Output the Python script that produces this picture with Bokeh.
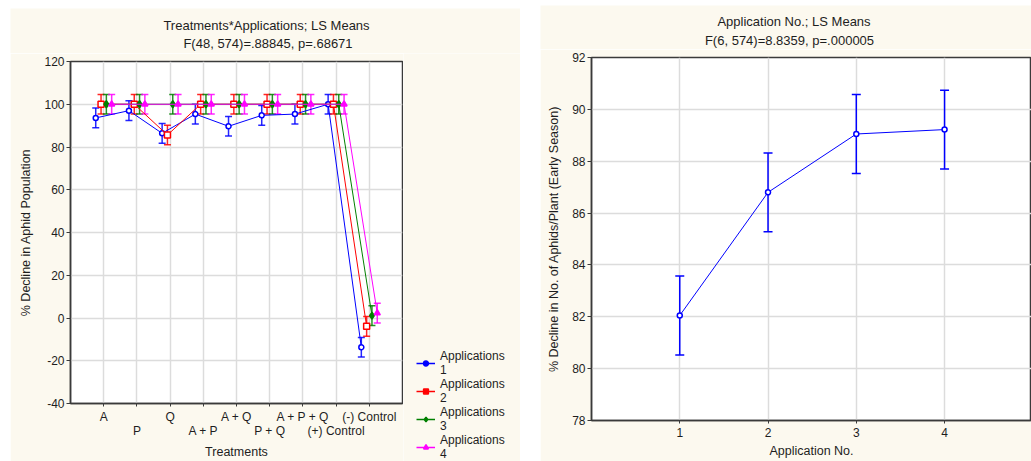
from bokeh.plotting import figure
from bokeh.models import (ColumnDataSource, Whisker, TeeHead, FixedTicker, Legend,
                          LegendItem, Label, Range1d)
from bokeh.layouts import row, column
from bokeh.embed import file_html
from bokeh.resources import INLINE

# ---------------- data ----------------
treatments = ["A", "P", "Q", "A + P", "A + Q", "P + Q", "A + P + Q", "(+) Control", "(-) Control"]
series_labels = ["Applications\n1", "Applications\n2", "Applications\n3", "Applications\n4"]
applications_1 = [93.6, 97.0, 86.4, 95.4, 89.7, 94.8, 95.4, 100.0, -13.7]
applications_2 = [100.0, 100.0, 85.6, 100.0, 100.0, 100.0, 100.0, 100.0, -3.9]
applications_3 = [100.0, 100.0, 100.0, 100.0, 100.0, 100.0, 100.0, 100.0, 1.1]
applications_4 = [100.0, 100.0, 100.0, 100.0, 100.0, 100.0, 100.0, 100.0, 2.3]
treat_ci = 4.6
treat_yticks = [-40, -20, 0, 20, 40, 60, 80, 100, 120]
left_title = "Treatments*Applications; LS Means"
left_subtitle = "F(48, 574)=.88845, p=.68671"

application_no = [1, 2, 3, 4]
application_means = [82.05, 86.8, 89.05, 89.22]
application_ci = 1.52
app_yticks = [78, 80, 82, 84, 86, 88, 90, 92]
right_title = "Application No.; LS Means"
right_subtitle = "F(6, 574)=8.8359, p=.000005"

# ---------------- styling ----------------
CREAM = "#fcf9ef"
FONT = "Liberation Sans"
FS_TICK = "12px"
FS_LAB = "12.5px"
FS_TITLE = "13px"
FS_LEG = "12px"
TXT = "#1e1e1e"
AX = "#3a3a3a"
GRID = "#dcdcdc"


def style_axes(p):
    for ax in (p.xaxis[0], p.yaxis[0]):
        ax.axis_line_color = AX
        ax.axis_line_width = 1.5
        ax.major_tick_line_color = AX
        ax.major_tick_in = 0
        ax.minor_tick_line_color = None
        ax.major_label_text_font = FONT
        ax.major_label_text_font_size = FS_TICK
        ax.major_label_text_color = TXT
        ax.axis_label_text_font = FONT
        ax.axis_label_text_font_size = FS_LAB
        ax.axis_label_text_font_style = "normal"
        ax.axis_label_text_color = TXT
    p.yaxis.major_tick_out = 4
    p.xaxis.major_tick_out = 3
    p.xgrid.grid_line_color = GRID
    p.ygrid.grid_line_color = GRID
    p.xgrid.grid_line_width = 1.5
    p.ygrid.grid_line_width = 1.5


def blank_fig(w, h):
    f = figure(width=w, height=h, x_range=Range1d(0, w), y_range=Range1d(0, h),
               output_backend="svg", toolbar_location=None,
               x_axis_type=None, y_axis_type=None,
               min_border_left=0, min_border_right=0, min_border_top=0, min_border_bottom=0,
               background_fill_color=CREAM, border_fill_color=CREAM, outline_line_color=None)
    f.xgrid.visible = False
    f.ygrid.visible = False
    return f


def title_strip(w, h, main, sub, main_xy, sub_xy):
    f = blank_fig(w, h)
    for txt, (x, y) in ((main, main_xy), (sub, sub_xy)):
        f.add_layout(Label(x=x, y=y, text=txt, text_align="center", text_baseline="middle",
                           text_font=FONT, text_font_size=FS_TITLE, text_color=TXT))
    return f


# ---------------- left chart ----------------
stripL = title_strip(510, 45, left_title, left_subtitle, (256, 28), (257.5, 10))
stripL.margin = (8, 0, 0, 10)

p1 = figure(width=393, height=408, x_range=Range1d(0, 10), y_range=Range1d(-40, 120),
            output_backend="svg", toolbar_location=None,
            min_border_left=60, min_border_right=1, min_border_top=8, min_border_bottom=53,
            background_fill_color="white", border_fill_color=CREAM,
            outline_line_color=AX, outline_line_width=1.5)
p1.margin = (0, 0, 0, 10)

style_axes(p1)
p1.xaxis.ticker = FixedTicker(ticks=list(range(1, len(treatments) + 1)))
p1.xgrid.ticker = FixedTicker(ticks=list(range(1, len(treatments) + 1)))
p1.xaxis.major_label_overrides = {
    i + 1: (name if i % 2 == 0 else "\n" + name) for i, name in enumerate(treatments)
}
p1.xaxis.major_label_text_line_height = 1.0
p1.xaxis.major_label_standoff = 3
p1.xaxis.axis_label = "Treatments"
p1.xaxis.axis_label_standoff = 4
p1.yaxis.ticker = FixedTicker(ticks=treat_yticks)
p1.yaxis.major_label_overrides = {t: str(t) for t in treat_yticks}
p1.yaxis.axis_label = "% Decline in Aphid Population"
p1.yaxis.major_label_standoff = 2
p1.yaxis.axis_label_standoff = 8

# legend panel (continuation of the left chart's cream area)
pl = figure(width=117, height=408, x_range=Range1d(50, 51), y_range=Range1d(50, 51),
            output_backend="svg", toolbar_location=None,
            x_axis_type=None, y_axis_type=None,
            min_border_left=0, min_border_right=0, min_border_top=0, min_border_bottom=0,
            background_fill_color=CREAM, border_fill_color=CREAM, outline_line_color=None)
pl.xgrid.visible = False
pl.ygrid.visible = False

series = [applications_1, applications_2, applications_3, applications_4]
colors = ["#0000ff", "#ff0000", "#008000", "#ff00ff"]
markers = ["circle", "square", "diamond", "triangle"]
fills = ["white", "white", "#008000", "#ff00ff"]
msizes = [5, 6, 7, 6]
offsets = [-0.24, -0.08, 0.08, 0.24]

items = []
for vals, col, mk, fc, ms, off, lab in zip(series, colors, markers, fills, msizes, offsets, series_labels):
    xs = [i + 1 + off for i in range(len(vals))]
    src = ColumnDataSource(dict(x=xs, y=vals,
                                lo=[v - treat_ci for v in vals],
                                hi=[v + treat_ci for v in vals]))
    w = Whisker(source=src, base="x", upper="hi", lower="lo",
                line_color=col, line_width=1.5, line_alpha=0.85,
                upper_head=TeeHead(size=7, line_color=col, line_width=1.5, line_alpha=0.85),
                lower_head=TeeHead(size=7, line_color=col, line_width=1.5, line_alpha=0.85))
    p1.add_layout(w)
    p1.line("x", "y", source=src, line_color=col, line_width=1)
    p1.scatter("x", "y", source=src, marker=mk, size=ms, line_color=col,
               line_width=1.5, fill_color=fc)
    # legend glyphs (same data, outside the legend panel's visible range)
    lr = pl.line("x", "y", source=src, line_color=col, line_width=1.5)
    sr = pl.scatter("x", "y", source=src, marker=mk, size=6, line_color=col,
                    line_width=1.5, fill_color=col)
    items.append(LegendItem(label=lab, renderers=[lr, sr]))

legend = Legend(items=items, location=(13, 0), spacing=0, padding=0, margin=0,
                glyph_width=19, glyph_height=12, label_standoff=5,
                label_text_font=FONT, label_text_font_size=FS_LEG, label_text_color=TXT,
                label_text_line_height=0.82,
                background_fill_alpha=0, border_line_alpha=0)
pl.add_layout(legend)

left_block = column(column(stripL), row(column(p1), column(pl)))

# ---------------- right chart ----------------
stripR = title_strip(491, 44, right_title, right_subtitle, (253.5, 28), (249, 9))
stripR.margin = (5, 0, 0, 20)

p2 = figure(width=491, height=412, x_range=Range1d(0, 4.985), y_range=Range1d(78, 92),
            output_backend="svg", toolbar_location=None,
            min_border_left=51, min_border_right=0, min_border_top=8, min_border_bottom=41,
            background_fill_color="white", border_fill_color=CREAM,
            outline_line_color=AX, outline_line_width=1.5)
p2.margin = (0, 0, 0, 20)

style_axes(p2)
p2.xaxis.ticker = FixedTicker(ticks=application_no)
p2.xgrid.ticker = FixedTicker(ticks=application_no)
p2.xaxis.axis_label = "Application No."
p2.xaxis.major_label_standoff = 4
p2.xaxis.axis_label_standoff = 4
p2.yaxis.ticker = FixedTicker(ticks=app_yticks)
p2.yaxis.axis_label = "% Decline in No. of Aphids/Plant (Early Season)"
p2.yaxis.major_label_standoff = 2
p2.yaxis.axis_label_standoff = 8

src2 = ColumnDataSource(dict(x=application_no, y=application_means,
                             lo=[m - application_ci for m in application_means],
                             hi=[m + application_ci for m in application_means]))
p2.add_layout(Whisker(source=src2, base="x", upper="hi", lower="lo",
                      line_color="#0000ff", line_width=1.5,
                      upper_head=TeeHead(size=9, line_color="#0000ff", line_width=1.5),
                      lower_head=TeeHead(size=9, line_color="#0000ff", line_width=1.5)))
p2.line("x", "y", source=src2, line_color="#0000ff", line_width=1)
p2.scatter("x", "y", source=src2, marker="circle", size=5, line_color="#0000ff",
           line_width=1.5, fill_color="white")

right_block = column(column(stripR), column(p2))

layout = row(left_block, right_block)
open("out.html", "w").write(file_html(layout, INLINE))
